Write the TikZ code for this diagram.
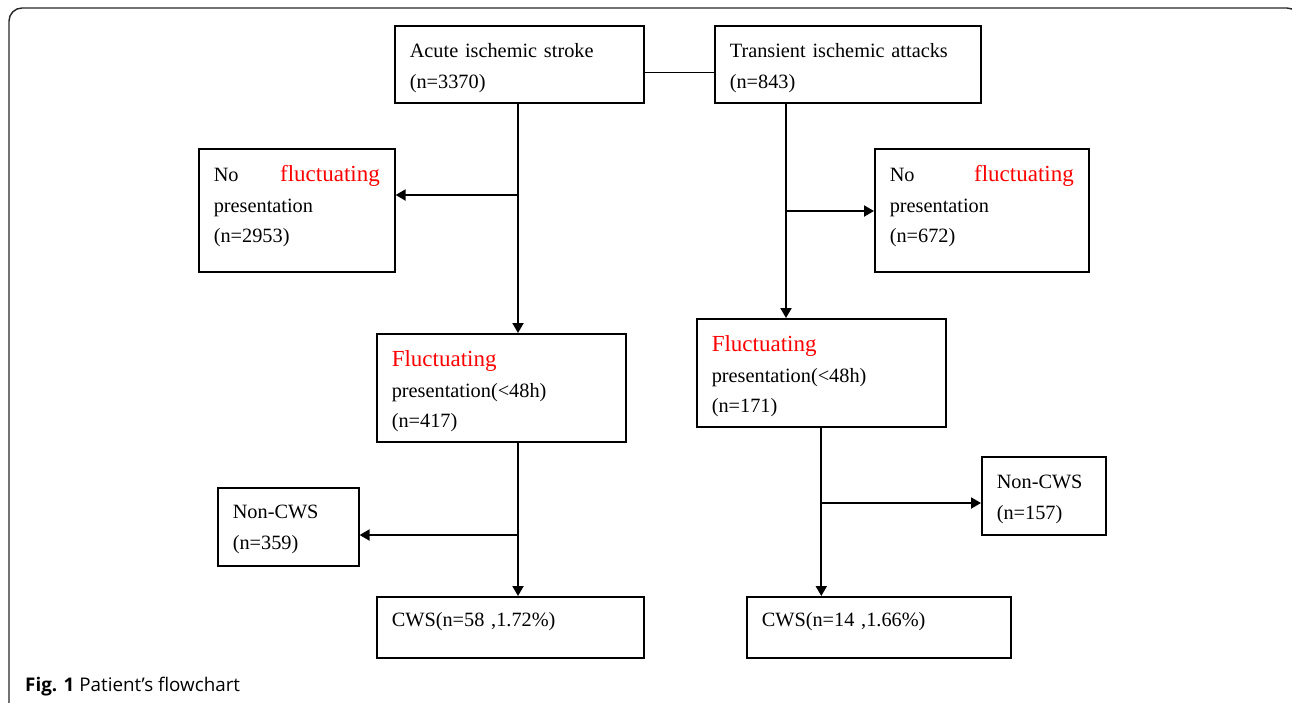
\documentclass[tikz,border=0pt]{standalone}
\usepackage{fontspec}
\setmainfont{Liberation Serif}
\newfontfamily\capfont{Open Sans}
\usetikzlibrary{arrows.meta}

\tikzset{
  box/.style={draw, line width=1.6pt, anchor=north west, inner xsep=15pt, inner ysep=0pt,
    align=left, text height=32pt, font=\fontsize{20.3}{30.5}\selectfont},
  arr/.style={line width=2pt, -{Triangle[length=10pt,width=11pt]}},
}
\newcommand{\redword}[1]{\textcolor{red}{\fontsize{23}{30.5}\selectfont #1}}

\begin{document}
\begin{tikzpicture}[x=1pt,y=-1pt]
			%%%%% START %%%%%
			\useasboundingbox (0,0) rectangle (1292,702);
			\clip (0,0) rectangle (1292,702);
			
			% outer frame
			\draw[line width=1.4pt, color=black!85, rounded corners=13pt] (9,8) rectangle (1300,730);
			
			% top row
			\node[box, text width=219pt, text depth=45pt] (ais) at (394,25) {Acute ischemic stroke\\(n=3370)};
			\node[box, text width=236pt, text depth=45pt] (tia) at (714,25) {Transient ischemic attacks\\(n=843)};
			\draw[line width=1.3pt] ([yshift=-8.5pt]ais.east) -- ([yshift=-8.5pt]ais.east -| tia.west);
			
			% no fluctuating
			\node[box, text width=166pt, text height=33pt, text depth=90pt] (nfl) at (198,148) {No\hfill\redword{fluctuating}\\presentation\\(n=2953)};
			\node[box, text width=184pt, text height=33pt, text depth=90pt] (nfr) at (874,148) {No\hfill\redword{fluctuating}\\presentation\\(n=672)};
			
			% fluctuating
			\node[box, text width=219pt, text height=33pt, text depth=75pt] (fl) at (376,333) {\redword{Fluctuating}\\presentation(<48h)\\(n=417)};
			\node[box, text width=219pt, text height=33pt, text depth=75pt] (fr) at (696,318) {\redword{Fluctuating}\\presentation(<48h)\\(n=171)};
			
			% non-CWS
			\node[box, text width=111pt, text height=31pt, text depth=47pt] (ncl) at (217,487) {Non-CWS\\(n=359)};
			\node[box, text width=94pt, text depth=46pt] (ncr) at (981,456) {Non-CWS\\(n=157)};
			
			% CWS
			\node[box, text width=237pt, text height=30pt, text depth=31pt] (cwsl) at (376,596) {CWS(n=58 ,1.72\%)};
			\node[box, text width=234pt, text height=30pt, text depth=31pt] (cwsr) at (746,596) {CWS(n=14 ,1.66\%)};
			
			% connectors
			\coordinate (a1) at (518,103);
			\coordinate (j1) at (518,195);
			\draw[arr] (a1) -- (a1 |- fl.north);
			\draw[arr] (j1) -- (j1 -| nfl.east);
			
			\coordinate (t1) at (786,103);
			\coordinate (j2) at (786,211);
			\draw[arr] (t1) -- (t1 |- fr.north);
			\draw[arr] (j2) -- (j2 -| nfr.west);
			
			\coordinate (f1) at (518,442);
			\coordinate (j3) at (518,535);
			\draw[arr] (f1) -- (f1 |- cwsl.north);
			\draw[arr] (j3) -- (j3 -| ncl.east);
			
			\coordinate (j4) at (821,503);
			\draw[arr] (fr.south) -- (fr.south |- cwsr.north);
			\draw[arr] (j4) -- (j4 -| ncr.west);
			
			% caption
			\node[anchor=base west, inner sep=0pt] (cap) at (25,691) {\capfont\fontsize{18.8}{22}\selectfont\textbf{Fig. 1} Patient’s flowchart};
			%%%%% END %%%%%
\end{tikzpicture}
\end{document}
